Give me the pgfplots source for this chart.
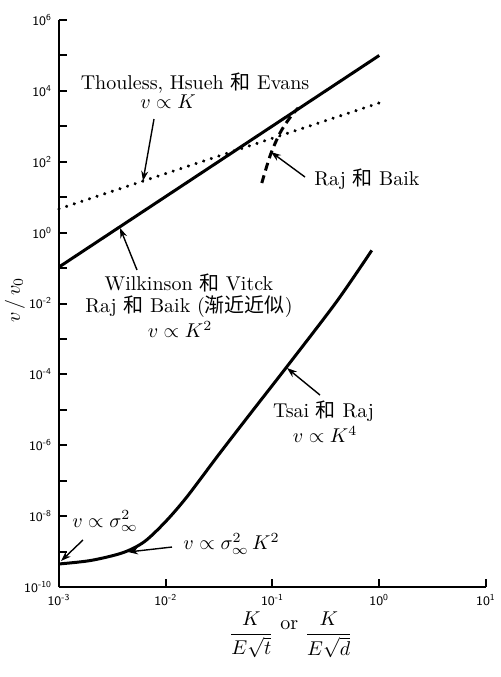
\documentclass[border=0pt]{standalone}
\usepackage{fontspec}
\usepackage{pgfplots}
\pgfplotsset{compat=1.18}
\usetikzlibrary{arrows.meta}
\newfontfamily\cjk{Noto Sans CJK SC}
\begin{document}
\begin{tikzpicture}
\path[use as bounding box] (-29.5pt,-45pt) rectangle (220.5pt,293.5pt);
\begin{axis}[
  xmode=log, ymode=log,
  scale only axis, width=213.5pt, height=283.5pt,
  xmin=1e-3, xmax=1e1, ymin=1e-10, ymax=1e6,
  axis x line*=bottom, axis y line*=left,
  axis line style={line width=1.4pt},
  xtick={1e-3,1e-2,1e-1,1e0,1e1},
  xticklabels={10\textsuperscript{-3},10\textsuperscript{-2},10\textsuperscript{-1},10\textsuperscript{0},10\textsuperscript{1}},
  ytick={1e-10,1e-8,1e-6,1e-4,1e-2,1e0,1e2,1e4,1e6},
  yticklabels={10\textsuperscript{-10},10\textsuperscript{-8},10\textsuperscript{-6},10\textsuperscript{-4},10\textsuperscript{-2},10\textsuperscript{0},10\textsuperscript{2},10\textsuperscript{4},10\textsuperscript{6}},
  xminorticks=false,
  minor ytick={1e-9,1e-7,1e-5,1e-3,1e-1,1e1,1e3,1e5},
  tick style={line width=1pt, black},
  major tick length=4pt, minor tick length=4pt,
  tick align=inside,
  ticklabel style={font=\sffamily\fontsize{6.5}{7}\selectfont},
  clip=false,
]
% v ~ K^2
\addplot[black, line width=1.5pt] coordinates {(1e-3,0.107) (1.0,1.0e5)};
% v ~ K (dotted)
\addplot[black, line width=1.7pt, line cap=round, dash pattern=on 0.01pt off 4pt] coordinates {(1e-3,4.68) (1.0,4570)};
% Raj & Baik (dashed)
\addplot[black, line width=1.5pt, dash pattern=on 4pt off 2.5pt, smooth] coordinates {
 (0.0794,25.1) (0.0955,155) (0.1175,646) (0.1445,1700) (0.174,3311)};
% Tsai & Raj
\addplot[black, line width=1.5pt, smooth, tension=0.5] coordinates {
 (1e-3,4.47e-10) (1.995e-3,5.62e-10) (3.98e-3,9.33e-10) (6.31e-3,1.905e-9)
 (1e-2,7.08e-9) (1.585e-2,3.55e-8) (3.16e-2,5.62e-7) (6.61e-2,1e-5)
 (0.135,1.585e-4) (0.398,1.122e-2) (0.851,0.316)};

% annotations
\node[anchor=base] at (rel axis cs:0.3185,0.8783) {Thouless, Hsueh {\cjk 和} Evans};
\node[anchor=base] at (rel axis cs:0.2553,0.8448) {$v\propto K$};
\draw[line width=0.7pt,-{Stealth[length=5pt,width=3.5pt]}] (rel axis cs:0.2225,0.8254) -- (rel axis cs:0.1967,0.7161);

\node[anchor=base] at (rel axis cs:0.7213,0.7090) {Raj {\cjk 和} Baik};
\draw[line width=0.7pt,-{Stealth[length=5pt,width=3.5pt]}] (rel axis cs:0.5761,0.7231) -- (rel axis cs:0.4965,0.7672);

\node[anchor=base] at (rel axis cs:0.3044,0.5238) {Wilkinson {\cjk 和} Vitck};
\node[anchor=base] at (rel axis cs:0.3044,0.4850) {Raj {\cjk 和} Baik ({\cjk 渐近近似})};
\node[anchor=base] at (rel axis cs:0.2834,0.4392) {$v\propto K^2$};
\draw[line width=0.7pt,-{Stealth[length=5pt,width=3.5pt]}] (rel axis cs:0.1827,0.5591) -- (rel axis cs:0.1429,0.6332);

\node[anchor=base] at (rel axis cs:0.6194,0.2998) {Tsai {\cjk 和} Raj};
\node[anchor=base] at (rel axis cs:0.6230,0.2540) {$v\propto K^4$};
\draw[line width=0.7pt,-{Stealth[length=5pt,width=3.5pt]}] (rel axis cs:0.6112,0.3386) -- (rel axis cs:0.5340,0.3862);

\node[anchor=base] at (rel axis cs:0.1077,0.1058) {$v\propto \sigma_\infty^2$};
\draw[line width=0.7pt,-{Stealth[length=5pt,width=3.5pt]}] (rel axis cs:0.0562,0.0829) -- (rel axis cs:0.0047,0.0459);

\node[anchor=base] at (rel axis cs:0.4040,0.0653) {$v\propto \sigma_\infty^2\, K^2$};
\draw[line width=0.7pt,-{Stealth[length=5pt,width=3.5pt]}] (rel axis cs:0.2646,0.0705) -- (rel axis cs:0.1616,0.0617);

% axis labels
\node[rotate=90] at ([xshift=-22pt]rel axis cs:0,0.506) {$v\,/\,v_0$};
\node at ([yshift=-24pt]rel axis cs:0.543,0) {$\displaystyle\frac{K}{E\sqrt{t}}$\ \raisebox{5pt}{or}\ $\displaystyle\frac{K}{E\sqrt{d}}$};
\end{axis}
\end{tikzpicture}
\end{document}
